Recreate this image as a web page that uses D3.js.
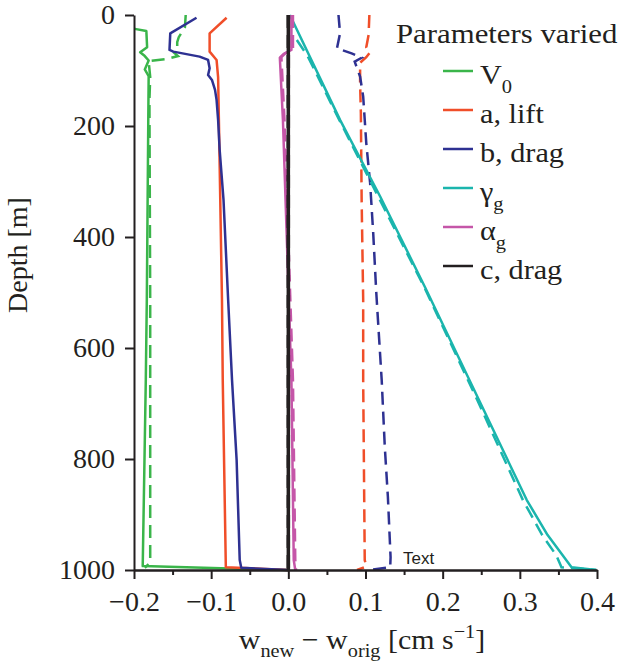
<!DOCTYPE html>
<meta charset="utf-8">
<script src="https://d3js.org/d3.v7.min.js"></script>
<style>
  body { margin: 0; background: #fff; }
  text { font-family: "Liberation Serif", "Times New Roman", serif; fill: #231f20; }
</style>
<div id="chart"></div>
<script>
  // series: [w difference (cm/s), depth (m)]
  var v0Solid = [[-0.199, 25], [-0.184, 29], [-0.183, 58], [-0.192, 67], [-0.186, 74], [-0.181, 82],
    [-0.186, 98], [-0.181, 110], [-0.1815, 189], [-0.1834, 513], [-0.1847, 657], [-0.1887, 993], [0.0, 1000]];
  var v0Dashed = [[-0.133, 0], [-0.134, 22], [-0.142, 40], [-0.144, 49], [-0.144, 63], [-0.148, 68],
    [-0.143, 74], [-0.157, 79], [-0.181, 83], [-0.179, 112], [-0.180, 153], [-0.179, 513], [-0.179, 987], [-0.186, 996]];
  var liftSolid = [[-0.080, 5], [-0.102, 33], [-0.102, 66], [-0.093, 81], [-0.091, 112], [-0.090, 189],
    [-0.086, 513], [-0.085, 657], [-0.081, 995], [0.0, 1000]];
  var liftDashed = [[0.105, 0], [0.104, 36], [0.101, 58], [0.106, 67], [0.101, 76], [0.093, 86], [0.093, 123],
    [0.094, 177], [0.095, 333], [0.097, 513], [0.097, 658], [0.099, 982], [0.101, 994], [0.089, 1000]];
  var dragBSolid = [[-0.119, 5], [-0.153, 33], [-0.154, 63], [-0.149, 66], [-0.115, 75], [-0.104, 81],
    [-0.102, 96], [-0.104, 108], [-0.099, 117], [-0.095, 135], [-0.093, 153], [-0.091, 189], [-0.089, 243],
    [-0.084, 333], [-0.078, 513], [-0.073, 657], [-0.067, 802], [-0.063, 982], [-0.061, 996], [0.0, 1000]];
  var dragBDashed = [[0.065, 0], [0.067, 33], [0.063, 60], [0.082, 69], [0.095, 77], [0.086, 84], [0.093, 111],
    [0.097, 147], [0.101, 231], [0.106, 303], [0.110, 393], [0.114, 501], [0.121, 658], [0.125, 778],
    [0.129, 868], [0.1325, 977], [0.132, 995], [0.106, 1000]];
  var gammaSolid = [[0.002, 0], [0.067, 189], [0.119, 327], [0.177, 490], [0.309, 874], [0.336, 937],
    [0.367, 995], [0.399, 1000]];
  var gammaDashed = [[0.011, 45], [0.025, 74], [0.066, 189], [0.176, 490], [0.245, 694], [0.304, 874],
    [0.329, 937], [0.347, 973], [0.354, 995], [0.399, 1000]];
  var alphaSolid = [[0.004, 0], [0.004, 63], [-0.006, 70], [-0.011, 77], [-0.007, 189], [0.004, 658],
    [0.007, 982], [0.009, 1000]];
  var alphaDashed = [[0.006, 0], [0.006, 62], [-0.004, 69], [-0.009, 76], [-0.005, 189], [0.006, 658],
    [0.009, 982], [0.010, 1000]];
  var dragCSolid = [[0.0, 0], [0.0, 1000]];
  var dragCDashed = [[0.0, 0], [0.0, 1000]];

  var legendNames = [["V", "0"], ["a, lift", ""], ["b, drag", ""], ["\u03b3", "g"], ["\u03b1", "g"], ["c, drag", ""]];
  var colors = ["#3ab54a", "#f04e29", "#2e3192", "#1bb5ad", "#c556a8", "#231f20"];
  var widths = [2.5, 2.5, 2.5, 2.5, 2.5, 3.5];
  var seriesSolid = [v0Solid, liftSolid, dragBSolid, gammaSolid, alphaSolid, dragCSolid];
  var seriesDashed = [v0Dashed, liftDashed, dragBDashed, gammaDashed, alphaDashed, dragCDashed];

  var depthTicks = [0, 200, 400, 600, 800, 1000];
  var wTicks = [-0.2, -0.1, 0.0, 0.1, 0.2, 0.3, 0.4];
  var wMinorTicks = [-0.15, -0.05, 0.05, 0.15, 0.25, 0.35];

  var margin = {top: 15, right: 35, bottom: 93, left: 134},
      width = 632 - margin.left - margin.right,
      height = 663 - margin.top - margin.bottom;

  var svg = d3.select("#chart")
    .append("svg")
      .attr("width", 632)
      .attr("height", 663)
    .append("g")
      .attr("transform", "translate(" + margin.left + "," + margin.top + ")");

  var x = d3.scaleLinear().domain([-0.2, 0.4]).range([0, width]);
  var y = d3.scaleLinear().domain([0, 1000]).range([0, height]);

  var line = d3.line()
    .x(function(d) { return x(d[0]); })
    .y(function(d) { return y(d[1]); });

  // curves
  seriesSolid.forEach(function(s, i) {
    svg.append("path")
      .datum(seriesDashed[i])
      .attr("fill", "none")
      .attr("stroke", colors[i])
      .attr("stroke-width", widths[i])
      .attr("stroke-dasharray", "13,7")
      .attr("d", line);
    svg.append("path")
      .datum(s)
      .attr("fill", "none")
      .attr("stroke", colors[i])
      .attr("stroke-width", widths[i])
      .attr("stroke-linejoin", "round")
      .attr("d", line);
  });

  // y axis
  var yAxis = svg.append("g")
    .call(d3.axisLeft(y).tickValues(depthTicks).tickSize(9).tickSizeOuter(0).tickPadding(10)
      .tickFormat(d3.format("d")));
  yAxis.selectAll("text").style("font-size", "28px").style("font-family", "Liberation Serif").attr("fill", "#231f20");

  // x axis
  var xMinor = svg.append("g")
    .attr("transform", "translate(0," + height + ")")
    .call(d3.axisBottom(x).tickValues(wMinorTicks).tickSize(5).tickSizeOuter(0).tickFormat(""));
  var xAxis = svg.append("g")
    .attr("transform", "translate(0," + height + ")")
    .call(d3.axisBottom(x).tickValues(wTicks).tickSize(9).tickSizeOuter(0).tickPadding(12)
      .tickFormat(function(d) { return d < 0 ? "\u2212" + Math.abs(d).toFixed(1) : d.toFixed(1); }));
  xAxis.selectAll("text").style("font-size", "28px").style("font-family", "Liberation Serif").attr("fill", "#231f20");

  svg.selectAll(".domain, .tick line").attr("stroke", "#231f20").attr("stroke-width", 2);

  // axis labels
  svg.append("text")
    .attr("text-anchor", "middle")
    .attr("transform", "rotate(-90)")
    .attr("x", -240)
    .attr("y", -107)
    .style("font-size", "28px")
    .text("Depth [m]");

  var xl = svg.append("text")
    .attr("text-anchor", "middle")
    .attr("transform", "translate(228,634) scale(1.07,1)")
    .style("font-size", "28px");
  xl.append("tspan").text("w");
  xl.append("tspan").attr("dy", 8).style("font-size", "19px").text("new");
  xl.append("tspan").attr("dy", -8).text(" \u2212 w");
  xl.append("tspan").attr("dy", 8).style("font-size", "19px").text("orig");
  xl.append("tspan").attr("dy", -8).text(" [cm s");
  xl.append("tspan").attr("dy", -11).style("font-size", "19px").text("\u22121");
  xl.append("tspan").attr("dy", 11).text("]");

  // legend
  svg.append("text")
    .attr("transform", "translate(262,28) scale(1.1,1)")
    .style("font-size", "28px")
    .text("Parameters varied");

  legendNames.forEach(function(n, i) {
    var ly = 56 + i * 39;
    svg.append("line")
      .attr("x1", 309).attr("x2", 339)
      .attr("y1", ly).attr("y2", ly)
      .attr("stroke", colors[i])
      .attr("stroke-width", 2.5);
    var t = svg.append("text")
      .attr("transform", "translate(346," + (ly + 13) + ") scale(1.08,1)")
      .style("font-size", "28px");
    t.append("tspan").text(n[0]);
    if (n[1]) t.append("tspan").attr("dy", 9).style("font-size", "19px").text(n[1]);
  });

  // stray label
  svg.append("text")
    .attr("x", 269)
    .attr("y", 549)
    .style("font-family", "Liberation Sans, Arial, sans-serif")
    .style("font-size", "17px")
    .attr("fill", "#000")
    .text("Text");
</script>
